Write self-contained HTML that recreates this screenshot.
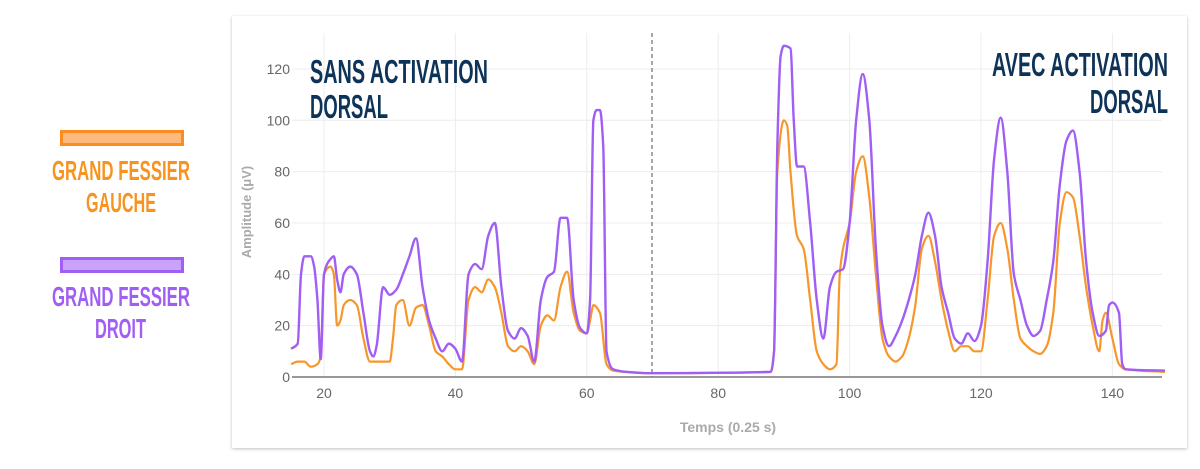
<!DOCTYPE html>
<html><head><meta charset="utf-8"><style>
html,body{margin:0;padding:0;background:#fff;}
svg{display:block;}
text{font-family:"Liberation Sans Narrow","Liberation Sans",sans-serif;}
</style></head><body>
<svg id="s" width="1200" height="469" viewBox="0 0 1200 469" xmlns="http://www.w3.org/2000/svg">
<defs><filter id="sh" x="-5%" y="-5%" width="110%" height="110%"><feDropShadow dx="0" dy="1" stdDeviation="1.5" flood-color="#000" flood-opacity="0.25"/></filter></defs>
<rect x="232" y="16" width="955" height="432" fill="#fff" filter="url(#sh)"/>
<g id="grid" stroke="#ececec" stroke-width="1"></g>
<line x1="652" y1="33" x2="652" y2="377" stroke="#888" stroke-width="1.5" stroke-dasharray="4,3"/>
<line x1="292" y1="377" x2="1162" y2="377" stroke="#777" stroke-width="1.5"/>
<g id="ticks" fill="#666" font-size="14" style="font-family:'Liberation Sans',sans-serif"></g>
<text x="0" y="0" transform="translate(251,212) rotate(-90)" text-anchor="middle" fill="#aaa" font-size="13" font-weight="bold" style="font-family:'Liberation Sans',sans-serif">Amplitude (μV)</text>
<text x="728" y="432" text-anchor="middle" fill="#aaa" font-size="14" font-weight="bold" style="font-family:'Liberation Sans',sans-serif">Temps (0.25 s)</text>
<path id="po" fill="none" stroke="#f7962a" stroke-width="2.2"/>
<path id="pp" fill="none" stroke="#a15ef4" stroke-width="2.4"/>
<g fill="#0d3359" font-weight="bold" font-size="33">
<text x="310" y="83" textLength="178" lengthAdjust="spacingAndGlyphs">SANS ACTIVATION</text>
<text x="310" y="118" textLength="78" lengthAdjust="spacingAndGlyphs">DORSAL</text>
<text x="992" y="76" textLength="176" lengthAdjust="spacingAndGlyphs">AVEC ACTIVATION</text>
<text x="1090" y="113" textLength="78" lengthAdjust="spacingAndGlyphs">DORSAL</text>
</g>
<rect x="61.5" y="131.5" width="121" height="13" fill="#fdb97e" stroke="#fb8c1d" stroke-width="3"/>
<rect x="61.5" y="258.5" width="121" height="13" fill="#c9a2f9" stroke="#a15ef4" stroke-width="3"/>
<g font-weight="bold" font-size="28">
<text x="52" y="180" fill="#f7931e" textLength="138" lengthAdjust="spacingAndGlyphs">GRAND FESSIER</text>
<text x="86" y="212" fill="#f7931e" textLength="70" lengthAdjust="spacingAndGlyphs">GAUCHE</text>
<text x="52" y="306" fill="#a15ef4" textLength="138" lengthAdjust="spacingAndGlyphs">GRAND FESSIER</text>
<text x="95" y="338" fill="#a15ef4" textLength="51" lengthAdjust="spacingAndGlyphs">DROIT</text>
</g>
</svg>
<script>
var NS="http://www.w3.org/2000/svg";
function X(v){return 324+(v-20)*6.57;}
function Y(v){return 377-v*2.567;}
var g=document.getElementById('grid'),t=document.getElementById('ticks');
for(var v=20;v<=140;v+=20){var l=document.createElementNS(NS,'line');l.setAttribute('x1',X(v));l.setAttribute('x2',X(v));l.setAttribute('y1',33);l.setAttribute('y2',377);g.appendChild(l);
var tx=document.createElementNS(NS,'text');tx.setAttribute('x',X(v));tx.setAttribute('y',398);tx.setAttribute('text-anchor','middle');tx.textContent=v;t.appendChild(tx);}
for(var v=0;v<=120;v+=20){if(v>0){var l=document.createElementNS(NS,'line');l.setAttribute('x1',292);l.setAttribute('x2',1162);l.setAttribute('y1',Y(v));l.setAttribute('y2',Y(v));g.appendChild(l);}
var tx=document.createElementNS(NS,'text');tx.setAttribute('x',290);tx.setAttribute('y',Y(v)+5);tx.setAttribute('text-anchor','end');tx.textContent=v;t.appendChild(tx);}
var P=[[15,11],[16,13],[16.5,40],[17,47],[18,47],[18.5,43],[19,30],[19.5,7],[20,40],[21,46],[21.5,47],[22,38],[22.5,33],[23,40],[24,43],[25,40],[26,25],[27,10],[27.5,8],[28,12],[29,35],[30,32],[31,34],[32,40],[33,47],[34,54],[35,35],[36,22],[37,15],[38,10],[39,13],[40,11],[41,6],[42,40],[43,44],[44,42],[45,55],[46,60],[47,35],[48,18],[49,15],[50,19],[51,16],[52,6],[53,30],[54,39],[55,41],[56,62],[57,62],[58,30],[59,19],[60,17],[60.5,30],[61,100],[61.5,104],[62,104],[62.5,90],[63,10],[64,3],[66,2],[70,1.5],[88,2],[88.5,10],[89,90],[89.5,125],[90,129],[91,128],[91.5,100],[92,82],[93,82],[94,60],[95,30],[96,15],[97,35],[98,41],[99,42],[100,60],[101,100],[102,118],[103,100],[104,50],[105,20],[106,12],[107,16],[108,22],[109,30],[110,40],[111,55],[112,64],[113,55],[114,35],[115,25],[116,15],[117,13],[118,17],[119,14],[120,20],[121,45],[122,85],[123,101],[124,80],[125,40],[126,30],[127,20],[128,16],[129,18],[130,30],[131,45],[132,75],[133,92],[134,96],[135,80],[136,45],[137,25],[138,16],[139,18],[139.5,28],[140,29],[141,25],[141.5,5],[142,3],[148,2.5]];
var O=[[15,5],[16,6],[17,6],[18,4],[19,5],[19.5,8],[20,40],[21,43],[21.5,40],[22,20],[22.5,22],[23,28],[24,30],[25,28],[26,15],[27,6],[28,6],[29,6],[30,6],[30.5,15],[31,28],[32,30],[33,20],[34,27],[35,28],[36,20],[37,10],[38,8],[39,5],[40,3],[41,3],[42,30],[43,35],[44,33],[45,38],[46,35],[47,25],[48,12],[49,10],[50,12],[51,10],[52,5],[53,20],[54,24],[55,22],[56,35],[57,41],[58,25],[59,18],[60,17],[60.5,22],[61,28],[62,25],[63,5],[64,2.5],[70,1.5],[88,2],[88.5,10],[89,80],[90,100],[90.5,98],[91,80],[92,55],[93,50],[94,30],[95,10],[96,5],[97,3],[98,5],[98.5,40],[99,50],[100,60],[101,80],[102,86],[103,70],[104,40],[105,15],[106,8],[107,6],[108,8],[109,15],[110,28],[111,50],[112,55],[113,45],[114,30],[115,18],[116,10],[117,12],[118,12],[119,10],[120,10],[121,30],[122,55],[123,60],[124,50],[125,30],[126,15],[127,12],[128,10],[129,9],[130,12],[131,25],[132,60],[133,72],[134,70],[135,55],[136,35],[137,20],[138,10],[138.5,22],[139,25],[140,15],[141,5],[142,3],[148,2]];
function path(a){var p=a.map(function(d){return [X(d[0]),Y(d[1])];});var n=p.length,d=[],m=[];
for(var i=0;i<n-1;i++)d.push((p[i+1][1]-p[i][1])/(p[i+1][0]-p[i][0]));
m[0]=d[0];m[n-1]=d[n-2];
for(var i=1;i<n-1;i++){if(d[i-1]*d[i]<=0)m[i]=0;else{var h0=p[i][0]-p[i-1][0],h1=p[i+1][0]-p[i][0];var w1=2*h1+h0,w2=h1+2*h0;m[i]=(w1+w2)/(w1/d[i-1]+w2/d[i]);}}
var s="M"+p[0][0]+","+p[0][1];
for(var i=0;i<n-1;i++){var h=(p[i+1][0]-p[i][0])/3;
s+=" C"+(p[i][0]+h)+","+(p[i][1]+m[i]*h)+" "+(p[i+1][0]-h)+","+(p[i+1][1]-m[i+1]*h)+" "+p[i+1][0]+","+p[i+1][1];}return s;}
document.getElementById('po').setAttribute('d',path(O));
document.getElementById('pp').setAttribute('d',path(P));
</script>
</body></html>
